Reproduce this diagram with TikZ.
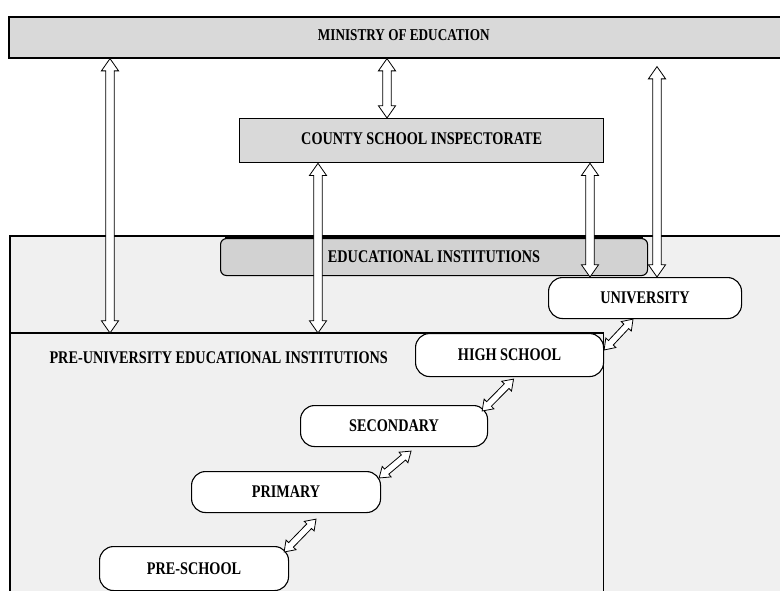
\documentclass[tikz,border=0pt]{standalone}
\usepackage{fontspec}
\setmainfont{Liberation Serif}[FakeStretch=0.8]
\usetikzlibrary{shapes.arrows,calc}
\definecolor{outerfill}{HTML}{F0F0F0}
\definecolor{boxfill}{HTML}{D9D9D9}
\definecolor{eifill}{HTML}{D2D2D2}
\newcommand{\lblfont}{\fontsize{17.8}{19}\selectfont\bfseries}
\newcommand{\dbl}[4][]{\path let \p1=($(#4)-(#3)$), \n1={veclen(\x1,\y1)}, \n2={atan2(\y1,\x1)} in node[darrow,#1,minimum height=\n1,rotate=\n2] (#2) at ($(#3)!0.5!(#4)$) {};}
\begin{document}
\begin{tikzpicture}[x=1pt,y=-1pt,
  every node/.style={font=\lblfont},
  topbox/.style={draw, fill=boxfill, line width=1.3pt, anchor=north west, inner sep=0pt},
  levelbox/.style={draw, fill=white, line width=1.1pt, rounded corners=14pt, anchor=north west, inner sep=0pt},
  darrow/.style={double arrow, draw, fill=white, line width=0.8pt, inner xsep=0pt, inner ysep=3.8pt, double arrow head extend=4.4pt, double arrow tip angle=70},
  smallarrow/.style={inner ysep=2.9pt, double arrow head extend=3.6pt}]
\useasboundingbox (0,0) rectangle (780,591);
\clip (0,0) rectangle (780,591);
% outer region
\fill[outerfill] (10,236) rectangle (800,600);
\draw[line width=1.1pt] (10,600) -- (10,236) -- (800,236);
% pre-university region
\node[anchor=north west, minimum width=593pt, minimum height=270pt, inner sep=0pt] (pur) at (10,333) {};
\draw[line width=1.1pt] (pur.north west) -- (pur.north east) -- (pur.south east);
\node[anchor=west] (putext) at (46,358) {PRE-UNIVERSITY EDUCATIONAL INSTITUTIONS};
% educational institutions
\node[draw, fill=eifill, line width=1.1pt, rounded corners=6pt, anchor=north west, inner sep=0pt, minimum width=427pt, minimum height=37pt] (ei) at (220,238) {EDUCATIONAL INSTITUTIONS};
\draw[line width=2.4pt] ($(ei.north west)+(5,0)$) -- ($(ei.north east)+(-5,0)$);
% ministry and county
\node[topbox, minimum width=790pt, minimum height=41pt, line width=1.6pt] (min) at (8,16) {\raisebox{5pt}{\fontsize{16.5}{18}\selectfont MINISTRY OF EDUCATION}};
\node[topbox, minimum width=364pt, minimum height=44pt] (cty) at (239,118) {\raisebox{4pt}{COUNTY SCHOOL INSPECTORATE}};
% levels
\node[levelbox, minimum width=193pt, minimum height=41pt] (univ) at (548,277) {UNIVERSITY};
\node[levelbox, minimum width=188pt, minimum height=43pt] (hs) at (415,333) {HIGH SCHOOL};
\node[levelbox, minimum width=187pt, minimum height=41pt] (sec) at (300,405) {SECONDARY};
\node[levelbox, minimum width=189pt, minimum height=41pt] (prim) at (191,471) {PRIMARY};
\node[levelbox, minimum width=189pt, minimum height=44pt] (pre) at (99,546) {\raisebox{-3pt}{PRE-SCHOOL}};
% x positions of vertical arrows
\coordinate (xa) at (110,0);
\coordinate (xb) at (387,0);
\coordinate (xc) at (657,0);
\coordinate (xd) at (318,0);
\coordinate (xe) at (590,0);
\coordinate (a1s) at (min.south -| xa);
\coordinate (a1e) at (pur.north -| xa);
\coordinate (a2s) at (min.south -| xb);
\coordinate (a2e) at (cty.north -| xb);
\coordinate (a3s) at ($(min.south -| xc)+(0,8)$);
\coordinate (a3e) at (univ.north -| xc);
\coordinate (a4s) at (cty.south -| xd);
\coordinate (a4e) at (pur.north -| xd);
\coordinate (a5s) at (cty.south -| xe);
\coordinate (a5e) at (univ.north -| xe);
\dbl{arrA}{a1s}{a1e}
\dbl{arrB}{a2s}{a2e}
\dbl{arrC}{a3s}{a3e}
\dbl{arrD}{a4s}{a4e}
\dbl{arrE}{a5s}{a5e}
% diagonal arrows
\coordinate (d1s) at ($(hs.north east)+(0,17)$);
\coordinate (d1e) at ($(univ.south)+(-12,0)$);
\coordinate (d2s) at ($(sec.north east)+(-6,6)$);
\coordinate (d2e) at ($(hs.south)+(4,2)$);
\coordinate (d3s) at ($(prim.north east)+(-2,7)$);
\coordinate (d3e) at ($(sec.south)+(17,4)$);
\coordinate (d4s) at ($(pre.north east)+(-5,6)$);
\coordinate (d4e) at ($(prim.south)+(30,6)$);
\dbl[smallarrow]{arrF}{d1s}{d1e}
\dbl[smallarrow]{arrG}{d2s}{d2e}
\dbl[smallarrow]{arrH}{d3s}{d3e}
\dbl[smallarrow]{arrI}{d4s}{d4e}
\end{tikzpicture}
\end{document}
